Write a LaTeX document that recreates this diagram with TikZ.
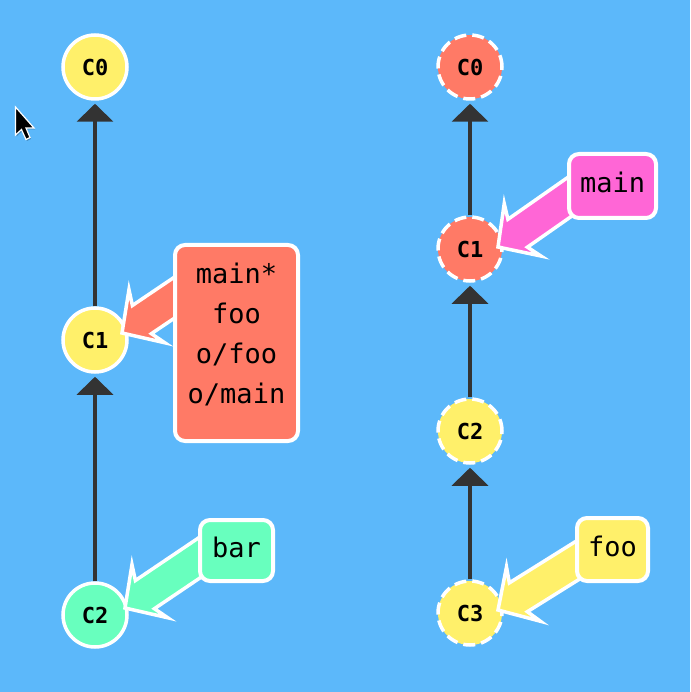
\documentclass[tikz,border=0pt]{standalone}
\usepackage{fontspec}
\newfontfamily\monofont{DejaVu Sans Mono}
\usetikzlibrary{arrows.meta,calc}
\definecolor{bg}{RGB}{92,184,250}
\definecolor{cyellow}{RGB}{255,240,106}
\definecolor{csalmon}{RGB}{255,122,102}
\definecolor{cmint}{RGB}{104,255,190}
\definecolor{cpink}{RGB}{255,102,214}
\definecolor{linegray}{RGB}{51,51,51}
\tikzset{
  commit/.style={circle, minimum size=64pt, inner sep=0pt, draw=white, line width=3.5pt,
    font=\monofont\bfseries\fontsize{22}{26}\selectfont},
  dashedcommit/.style={commit, dash pattern=on 12pt off 6pt},
  parentlink/.style={draw=linegray, line width=4pt, -{Triangle[length=18pt,width=36pt]}, shorten >=3pt},
  branchbox/.style={draw=white, line width=4pt, rounded corners=10pt, inner sep=0pt,
    font=\monofont\fontsize{27}{40}\selectfont, text height=20pt, text depth=6pt, align=center},
  fatarrowstyle/.style={draw=white, line width=3.5pt, line join=miter},
}
\newcommand\fatpointer[4]{% #1 tip, #2 angle, #3 length, #4 colour
  \begin{scope}[shift={#1}, rotate=#2]
    \filldraw[fatarrowstyle, fill=#4] (0,0) -- (30,-32) -- (24,-17) -- (#3,-17)
      -- (#3,17) -- (24,17) -- (30,32) -- cycle;
  \end{scope}}
\begin{document}
\begin{tikzpicture}[x=1pt,y=-1pt]
  \useasboundingbox (0,0) rectangle (690,692);
  \fill[bg] (0,0) rectangle (690,692);

  % cursor
  \fill[black, opacity=0.25] (16.5,108.5) -- (16.5,136.5) -- (22.5,131) -- (27,141) -- (31,139) -- (27,129.5) -- (35,129.5) -- cycle;
  \filldraw[fill=black, draw=white, line width=1.2pt, line join=miter]
    (15.5,107) -- (15.5,135) -- (21.5,129.5) -- (26,139.5) -- (30,137.5) -- (26,128) -- (34,128) -- cycle;

  % left repository
  \node[commit, fill=cyellow] (L0) at (95,67) {C0};
  \node[commit, fill=cyellow] (L1) at (95,340) {C1};
  \node[commit, fill=cmint]   (L2) at (95,615) {C2};
  \draw[parentlink] (L1) -- (L0);
  \draw[parentlink] (L2) -- (L1);

  % right repository
  \node[dashedcommit, fill=csalmon] (R0) at (470,67) {C0};
  \node[dashedcommit, fill=csalmon] (R1) at (470,249) {C1};
  \node[dashedcommit, fill=cyellow] (R2) at (470,431) {C2};
  \node[dashedcommit, fill=cyellow] (R3) at (470,613) {C3};
  \draw[parentlink] (R1) -- (R0);
  \draw[parentlink] (R2) -- (R1);
  \draw[parentlink] (R3) -- (R2);

  % branch pointers
  \fatpointer{($(L1)+(27,-7)$)}{34}{100}{csalmon}
  \fatpointer{($(L2)+(30,-7)$)}{34}{115}{cmint}
  \fatpointer{($(R1)+(28,-2)$)}{35}{115}{cpink}
  \fatpointer{($(R3)+(28,-3)$)}{32}{115}{cyellow}

  % branch labels
  \node[branchbox, fill=csalmon, minimum width=123pt, minimum height=196pt,
        text height=140pt, text depth=20pt] (Lbig) at (236.5,343)
        {main*\\foo\\o/foo\\o/main};
  \node[branchbox, fill=cmint, minimum width=73pt, minimum height=61pt] (Lbar) at (236.5,550.5) {bar};
  \node[branchbox, fill=cpink, minimum width=87pt, minimum height=64pt] (Rmain) at (612.5,186) {main};
  \node[branchbox, fill=cyellow, minimum width=71pt, minimum height=63pt] (Rfoo) at (612.5,549.5) {foo};
\end{tikzpicture}
\end{document}
